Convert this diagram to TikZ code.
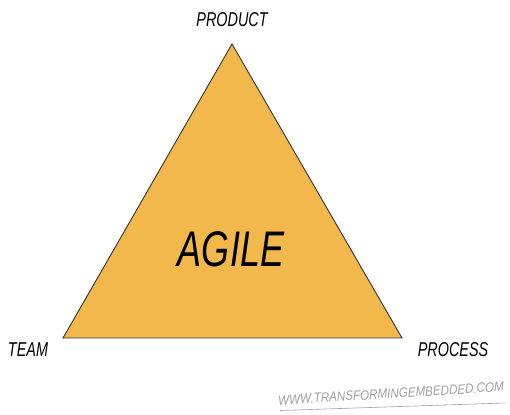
\documentclass[tikz,border=0pt]{standalone}
\usepackage{fontspec}
\setmainfont{Liberation Sans}
\definecolor{agile}{HTML}{F2B84B}
\definecolor{wm}{HTML}{A0A0A0}
\begin{document}
\begin{tikzpicture}[x=1pt,y=1pt,
  lbl/.style={font=\fontsize{20}{24}\selectfont\itshape, inner sep=0pt, xscale=0.72, transform shape},
  wmark/.style={font=\fontsize{13.5}{15}\selectfont\itshape, text=wm, inner sep=0pt, xscale=0.86, rotate=3, transform shape}]
\useasboundingbox (0,0) rectangle (510,414);
\coordinate (top) at (232,370);
\coordinate (left) at (63,76);
\coordinate (right) at (402,76);
\draw[fill=agile, draw=black!80, line width=0.9pt, line join=miter] (top) -- (right) -- (left) -- cycle;
\node[lbl] (product) at (232,394) {PRODUCT};
\node[lbl] (team) at (28,64) {TEAM};
\node[lbl] (process) at (453,64) {PROCESS};
\node[lbl, font=\fontsize{50}{56}\selectfont\itshape] (agilelbl) at (231,165) {AGILE};
\node[wmark] (www) at (391,20.5) {WWW.TRANSFORMINGEMBEDDED.COM};
\coordinate (ul1) at (280,3.5);
\coordinate (ul2) at (505,11);
\draw[wm, line width=0.6pt] (ul1) -- (ul2);
\end{tikzpicture}
\end{document}
